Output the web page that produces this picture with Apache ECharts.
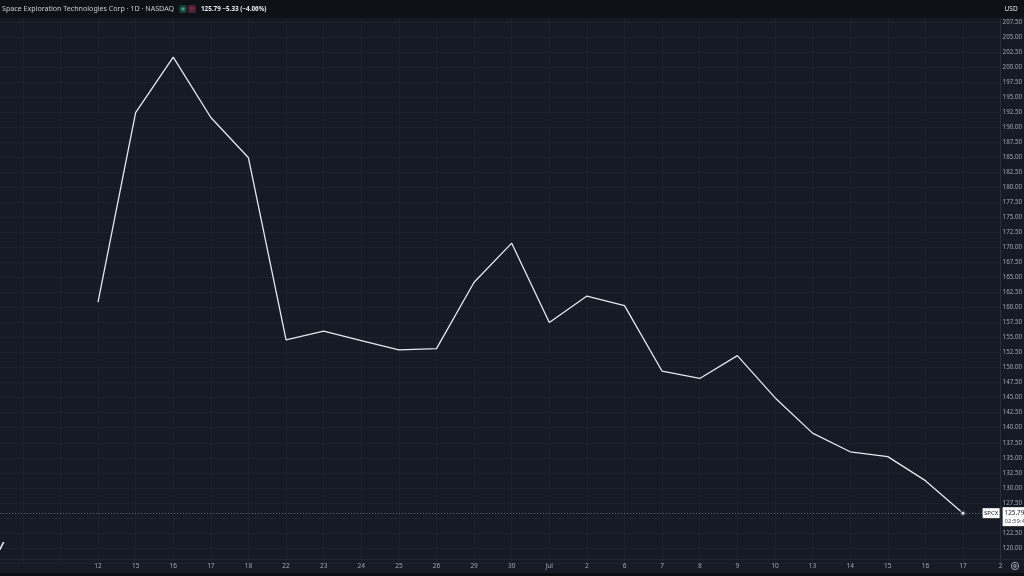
<!DOCTYPE html>
<html>
<head>
<meta charset="utf-8">
<script src="https://cdn.jsdelivr.net/npm/echarts@6/dist/echarts.min.js"></script>
<style>
html,body{margin:0;padding:0;background:#161a25;}
#c{width:1024px;height:576px;}
</style>
</head>
<body>
<div id="c"></div>
<script>
// ---- data ----
const dateLabels = ['12','15','16','17','18','22','23','24','25','26','29','30','Jul','2','6','7','8','9','10','13','14','15','16','17','2'];
const closes = [160.9,192.4,201.65,191.6,184.9,154.6,156.05,154.5,152.95,153.15,164.2,170.7,157.5,161.9,160.3,149.4,148.2,152.0,145.0,139.1,136.0,135.2,131.2,125.79];
const yTicks = {min:117.5, max:210, step:2.5};
const titleText = 'Space Exploration Technologies Corp · 1D · NASDAQ';
const quoteText = '125.79 −5.33 (−4.06%)';
const symbolName = 'SPCX';
const lastPrice = 125.79;
const countdown = '02:59:41';
const currency = 'USD';

const seriesData = closes.map((v,i)=>[i,v]);
const lastIdx = closes.length-1;

const chart = echarts.init(document.getElementById('c'));
const FONT = 'Noto Sans';
chart.setOption({
  backgroundColor:'#161a25',
  animation:false,
  grid:{left:-14.8, right:23.4, top:6.9, bottom:13, outerBoundsMode:'none', containLabel:false},
  xAxis:{
    type:'value', min:-3, max:dateLabels.length-1, interval:1,
    axisLine:{show:false, onZero:false}, axisTick:{show:false},
    splitLine:{show:true, lineStyle:{color:'#1d212c', width:1}},
    axisLabel:{
      color:'#a3a6af', fontSize:6.5, fontFamily:FONT, margin:0,
      formatter:v=> (v>=0 && dateLabels[v]!==undefined) ? dateLabels[v] : ''
    }
  },
  yAxis:{
    type:'value', position:'right', min:yTicks.min, max:yTicks.max, interval:yTicks.step,
    axisLine:{show:true, onZero:false, lineStyle:{color:'#2a2e39'}}, axisTick:{show:false},
    splitLine:{show:true, lineStyle:{color:'#1d212c', width:1}},
    axisLabel:{color:'#a3a6af', fontSize:6.2, fontFamily:FONT, margin:2,
      showMinLabel:false, showMaxLabel:false,
      formatter:v=>v.toFixed(2)}
  },
  series:[
    {
      type:'line', data:seriesData, showSymbol:false, smooth:false,
      lineStyle:{color:'#e6e8ee', width:1.3},
      markLine:{
        silent:true, symbol:'none', label:{show:false},
        lineStyle:{color:'#6a6d78', type:[1,2], width:1},
        data:[{yAxis:lastPrice}]
      }
    },
    {
      type:'scatter', data:[seriesData[lastIdx]], symbol:'circle', symbolSize:4.5,
      itemStyle:{color:'#ffffff', borderColor:'#2a2e39', borderWidth:1.5}, z:5
    }
  ]
});

// annotations anchored through the library's scales
const p = chart.convertToPixel({gridIndex:0}, [lastIdx, lastPrice]);
const axisX = chart.convertToPixel({gridIndex:0}, [dateLabels.length-1, lastPrice])[0];
chart.setOption({
  graphic:[
    // header bar
    {type:'rect', shape:{x:0,y:0,width:1024,height:18}, style:{fill:'#0f1118'}, z:10},
    {type:'text', x:2, y:9, style:{text:titleText, fill:'#c9ccd4', fontSize:7.1, fontFamily:FONT, verticalAlign:'middle'}, z:11},
    {type:'rect', shape:{x:179,y:5,width:8,height:8,r:2}, style:{fill:'#1f3b33'}, z:11},
    {type:'circle', shape:{cx:183,cy:9,r:1.8}, style:{fill:'#26a69a'}, z:12},
    {type:'rect', shape:{x:188,y:5,width:8,height:8,r:2}, style:{fill:'#4a2633'}, z:11},
    {type:'text', x:192, y:9, style:{text:'≡', fill:'#f23d74', fontSize:7, fontFamily:FONT, align:'center', verticalAlign:'middle'}, z:12},
    {type:'text', x:201, y:9, style:{text:quoteText, fill:'#e8eaf0', fontSize:6.3, fontWeight:'bold', fontFamily:FONT, verticalAlign:'middle'}, z:11},
    // currency tag
    {type:'rect', shape:{x:axisX+2,y:2,width:20,height:13}, style:{fill:'#0f1118'}, z:11},
    {type:'text', x:axisX+4, y:9, style:{text:currency, fill:'#e0e3eb', fontSize:6.5, fontFamily:FONT, verticalAlign:'middle'}, z:12},
    // symbol tag
    {type:'rect', shape:{x:axisX-18,y:p[1]-5,width:17,height:10}, style:{fill:'#ffffff'}, z:11},
    {type:'text', x:axisX-9.5, y:p[1], style:{text:symbolName, fill:'#131722', fontSize:6, fontFamily:FONT, align:'center', verticalAlign:'middle'}, z:12},
    // price tag
    {type:'rect', shape:{x:axisX+2,y:p[1]-6,width:30,height:19}, style:{fill:'#ffffff'}, z:11},
    {type:'text', x:axisX+4, y:p[1], style:{text:lastPrice.toFixed(2), fill:'#131722', fontSize:6.3, fontFamily:FONT, verticalAlign:'middle'}, z:12},
    {type:'text', x:axisX+4, y:p[1]+8, style:{text:countdown, fill:'#50535e', fontSize:6, fontFamily:FONT, verticalAlign:'middle'}, z:12},
    // time-scale separator and bottom strip
    {type:'line', shape:{x1:0,y1:559.5,x2:1024,y2:559.5}, style:{stroke:'#232734', lineWidth:1}, z:1},
    {type:'rect', shape:{x:0,y:573,width:1024,height:3}, style:{fill:'#0b0d12'}, z:11},
    // logo fragment and settings icon
    {type:'text', x:-3, y:547, style:{text:'V', fill:'#e8eaf0', fontSize:11, fontWeight:'bold', fontStyle:'italic', fontFamily:FONT, verticalAlign:'middle'}, z:11},
    {type:'circle', shape:{cx:1015,cy:566,r:3.6}, style:{fill:'none', stroke:'#a3a6af', lineWidth:1}, z:11},
    {type:'circle', shape:{cx:1015,cy:566,r:1.3}, style:{fill:'none', stroke:'#a3a6af', lineWidth:1}, z:11}
  ]
});
</script>
</body>
</html>
